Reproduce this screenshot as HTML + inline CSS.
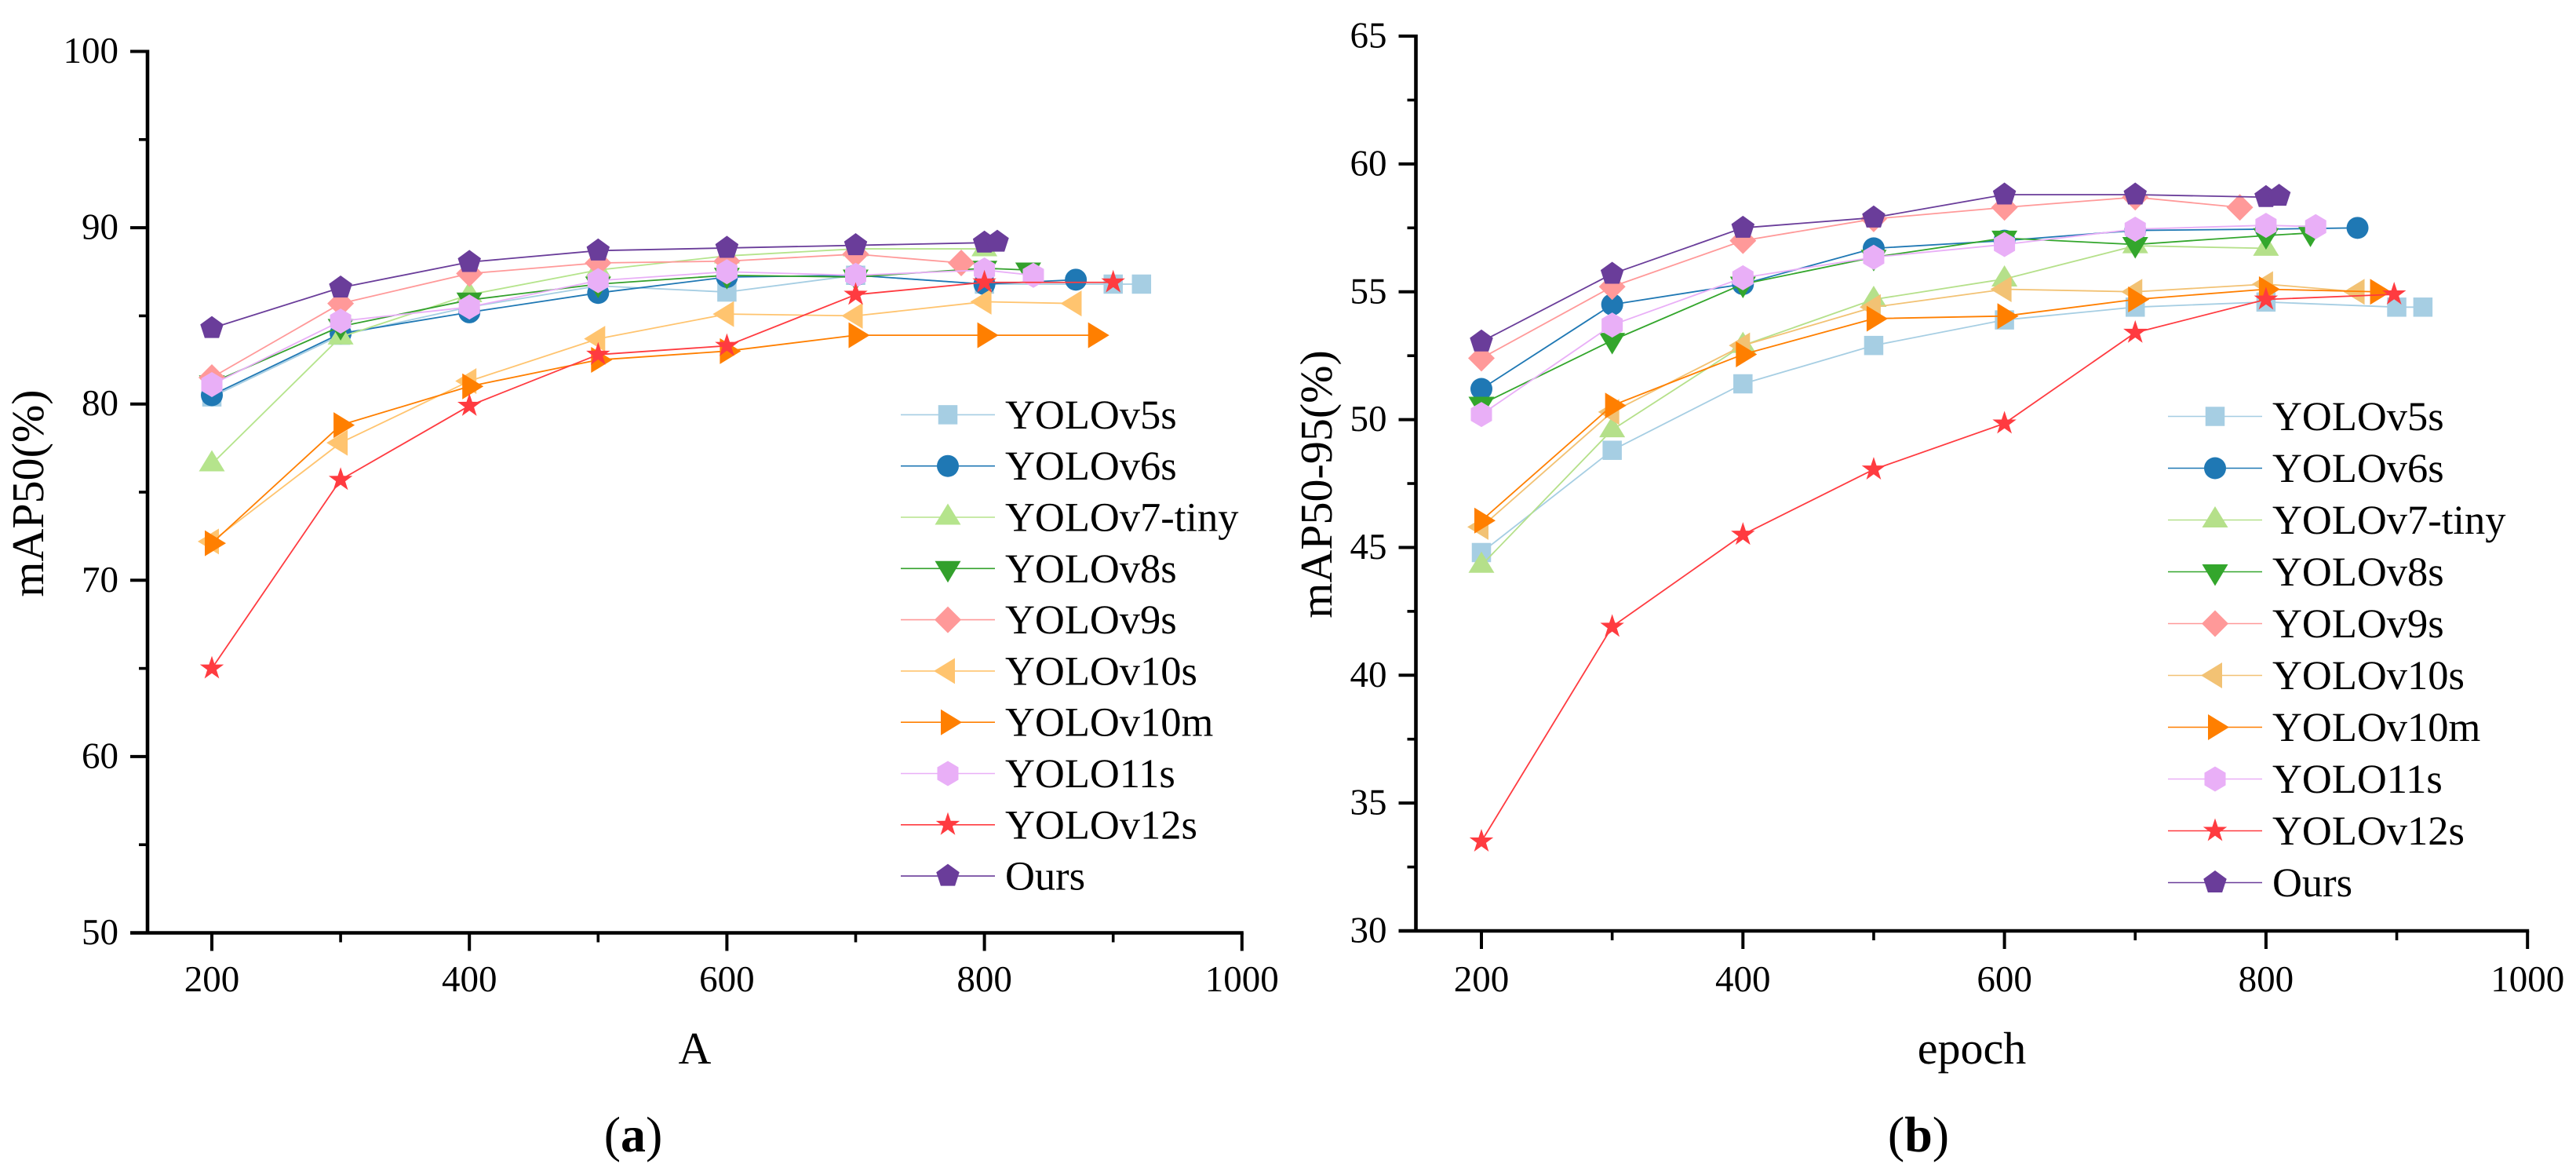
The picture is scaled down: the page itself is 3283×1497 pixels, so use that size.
<!DOCTYPE html>
<html lang="en">
<head>
<meta charset="utf-8">
<title>mAP comparison charts</title>
<style>
  html, body { margin: 0; padding: 0; background: #fff; }
  body { width: 3283px; height: 1497px; overflow: hidden; }
  svg { display: block; }
  text { font-family: "Liberation Serif", "Times New Roman", serif; fill: #000; text-rendering: geometricPrecision; }
</style>
</head>
<body>
<svg id="figure" xmlns="http://www.w3.org/2000/svg" width="3283" height="1497" viewBox="0 0 3283 1497">
  <rect x="0" y="0" width="3283" height="1497" fill="#ffffff"/>
</svg>
<script>
// ---------- shared labels ----------
const seriesNames = ["YOLOv5s","YOLOv6s","YOLOv7-tiny","YOLOv8s","YOLOv9s","YOLOv10s","YOLOv10m","YOLO11s","YOLOv12s","Ours"];
const xTickLabels = [200,400,600,800,1000];
const xMinorTicks = [300,500,700,900];
const yTicksA = [50,60,70,80,90,100];
const yMinorA = [55,65,75,85,95];
const yTicksB = [30,35,40,45,50,55,60,65];
const yMinorB = [32.5,37.5,42.5,47.5,52.5,57.5,62.5];

// ---------- panel (a) data ----------
const aX_v5s  = [200,300,400,500,600,700,800,900,922];
const aY_v5s  = [80.4,83.9,85.5,86.7,86.35,87.3,86.8,86.8,86.8];
const aX_v6s  = [200,300,400,500,600,700,800,871];
const aY_v6s  = [80.5,84.0,85.2,86.3,87.2,87.3,86.8,87.05];
const aX_v7   = [200,300,400,500,600,700,800];
const aY_v7   = [76.6,83.8,86.2,87.6,88.4,88.8,88.8];
const aX_v8   = [200,300,400,500,600,700,800,834];
const aY_v8   = [81.2,84.4,85.9,86.8,87.3,87.2,87.7,87.6];
const aX_v9   = [200,300,400,500,600,700,782];
const aY_v9   = [81.5,85.7,87.4,88.0,88.1,88.5,88.0];
const aX_v10s = [200,300,400,500,600,700,800,870];
const aY_v10s = [72.2,77.8,81.3,83.7,85.1,85.0,85.8,85.7];
const aX_v10m = [200,300,400,500,600,700,800,886];
const aY_v10m = [72.1,78.8,81.0,82.5,83.0,83.9,83.9,83.9];
const aX_v11  = [200,300,400,500,600,700,800,838];
const aY_v11  = [81.1,84.7,85.5,87.0,87.5,87.3,87.6,87.3];
const aX_v12  = [200,300,400,500,600,700,800,900];
const aY_v12  = [65.0,75.7,79.9,82.8,83.3,86.2,86.9,86.9];
const aX_ours = [200,300,400,500,600,700,800,810];
const aY_ours = [84.3,86.6,88.05,88.7,88.85,89.0,89.15,89.2];

// ---------- panel (b) data ----------
const bX_v5s  = [200,300,400,500,600,700,800,900,920];
const bY_v5s  = [44.8,48.8,51.4,52.9,53.9,54.4,54.6,54.4,54.4];
const bX_v6s  = [200,300,400,500,600,700,800,870];
const bY_v6s  = [51.2,54.5,55.3,56.7,57.0,57.4,57.45,57.5];
const bX_v7   = [200,300,400,500,600,700,800];
const bY_v7   = [44.3,49.6,52.9,54.7,55.5,56.8,56.7];
const bX_v8   = [200,300,400,500,600,700,800,834];
const bY_v8   = [50.6,53.1,55.3,56.35,57.1,56.85,57.2,57.3];
const bX_v9   = [200,300,400,500,600,700,780];
const bY_v9   = [52.4,55.2,57.0,57.85,58.3,58.7,58.3];
const bX_v10s = [200,300,400,500,600,700,800,870];
const bY_v10s = [45.8,50.3,52.9,54.4,55.1,55.0,55.3,55.0];
const bX_v10m = [200,300,400,500,600,700,800,885];
const bY_v10m = [46.05,50.55,52.55,53.95,54.05,54.7,55.1,55.0];
const bX_v11  = [200,300,400,500,600,700,800,838];
const bY_v11  = [50.2,53.7,55.55,56.35,56.85,57.45,57.6,57.55];
const bX_v12  = [200,300,400,500,600,700,800,898];
const bY_v12  = [33.5,41.9,45.5,48.05,49.85,53.4,54.7,54.9];
const bX_ours = [200,300,400,500,600,700,800,810];
const bY_ours = [53.05,55.7,57.5,57.9,58.8,58.8,58.7,58.75];

const aXs = [aX_v5s,aX_v6s,aX_v7,aX_v8,aX_v9,aX_v10s,aX_v10m,aX_v11,aX_v12,aX_ours];
const aYs = [aY_v5s,aY_v6s,aY_v7,aY_v8,aY_v9,aY_v10s,aY_v10m,aY_v11,aY_v12,aY_ours];
const bXs = [bX_v5s,bX_v6s,bX_v7,bX_v8,bX_v9,bX_v10s,bX_v10m,bX_v11,bX_v12,bX_ours];
const bYs = [bY_v5s,bY_v6s,bY_v7,bY_v8,bY_v9,bY_v10s,bY_v10m,bY_v11,bY_v12,bY_ours];

const colorsA = ["#A6CEE3","#1F78B4","#B5E48C","#33A02C","#FF9999","#FFC46F","#FF7F00","#E9AFF7","#FF3B40","#6A3D9A"];
const colorsB = ["#A6CEE3","#1F78B4","#B5E08A","#33A62C","#FF9999","#F2C274","#FF7F00","#E9AFF7","#FF3B40","#6A3D9A"];
const markerKinds = ["square","circle","up","down","diamond","left","right","hexagon","star","pentagon"];

const NS = "http://www.w3.org/2000/svg";
const svg = document.getElementById("figure");

function make(parent, tag, attrs) {
  const el = document.createElementNS(NS, tag);
  for (const k in attrs) el.setAttribute(k, attrs[k]);
  parent.appendChild(el);
  return el;
}

function polyPoints(cx, cy, pts) {
  return pts.map(p => (cx + p[0]).toFixed(2) + "," + (cy + p[1]).toFixed(2)).join(" ");
}

function radial(n, r1, r2) {
  const out = [];
  const count = r2 ? n * 2 : n;
  for (let i = 0; i < count; i++) {
    const r = (r2 && i % 2) ? r2 : r1;
    const t = -Math.PI / 2 + i * 2 * Math.PI / count;
    out.push([r * Math.cos(t), r * Math.sin(t)]);
  }
  return out;
}

function drawMarker(parent, kind, cx, cy, color) {
  if (kind === "circle") return make(parent, "circle", {cx: cx, cy: cy, r: 14, fill: color});
  if (kind === "square") return make(parent, "rect", {x: cx - 12.25, y: cy - 12.25, width: 24.5, height: 24.5, fill: color});
  let pts;
  if (kind === "up") pts = [[0,-17.5],[16.5,9.5],[-16.5,9.5]];
  if (kind === "down") pts = [[-16.5,-9.5],[16.5,-9.5],[0,18]];
  if (kind === "left") pts = [[-18,0],[9,-16.5],[9,16.5]];
  if (kind === "right") pts = [[18,0],[-9,-16.5],[-9,16.5]];
  if (kind === "diamond") pts = [[0,-17],[17,0],[0,17],[-17,0]];
  if (kind === "hexagon") pts = [[0,-16],[13.5,-8],[13.5,8],[0,16],[-13.5,8],[-13.5,-8]];
  if (kind === "pentagon") pts = radial(5, 15.5);
  if (kind === "star") pts = radial(5, 16, 6.2);
  return make(parent, "polygon", {points: polyPoints(cx, cy, pts), fill: color});
}

function drawPanel(p) {
  const panel = make(svg, "g", {});
  
  

  const sx = v => p.x200 + (v - 200) * p.xScale;
  const sy = v => p.yBase + (p.yMin - v) * p.yScale;

  // axes
  const axes = make(panel, "g", {stroke: "#000", fill: "none"});
  
  
  const axisY = sy(p.yMin);
  const yAxisLine = make(axes, "line", {x1: p.xAxis, y1: sy(p.yMax) - 2, x2: p.xAxis, y2: axisY + 2, "stroke-width": 4.6});
  
  
  const xAxisLine = make(axes, "line", {x1: p.xAxis - 22, y1: axisY, x2: sx(1000) + 2, y2: axisY, "stroke-width": 4.6});
  
  

  xTickLabels.forEach(v => {
    const t = make(axes, "line", {x1: sx(v), y1: axisY, x2: sx(v), y2: axisY + 23, "stroke-width": 4});
    
    
    const l = make(panel, "text", {x: sx(v), y: p.xTickBase, "text-anchor": "middle", "font-size": p.tickFont});
    l.textContent = v;
    
    
  });
  xMinorTicks.forEach(v => {
    const t = make(axes, "line", {x1: sx(v), y1: axisY, x2: sx(v), y2: axisY + 12, "stroke-width": 3.6});
    
    
  });
  p.yTicks.forEach(v => {
    const t = make(axes, "line", {x1: p.xAxis - 22, y1: sy(v), x2: p.xAxis, y2: sy(v), "stroke-width": 4});
    
    
    const l = make(panel, "text", {x: p.xAxis - 37, y: sy(v) + 14.5, "text-anchor": "end", "font-size": p.tickFont});
    l.textContent = v;
    
    
  });
  p.yMinor.forEach(v => {
    const t = make(axes, "line", {x1: p.xAxis - 11, y1: sy(v), x2: p.xAxis, y2: sy(v), "stroke-width": 3.6});
    
    
  });

  // axis titles
  const xt = make(panel, "text", {x: p.xTitleX, y: p.xTitleY, "text-anchor": "middle", "font-size": 58});
  xt.textContent = p.xTitle;
  
  
  const yt = make(panel, "text", {x: 0, y: 0, "text-anchor": "middle", "font-size": 58, transform: "translate(" + p.yTitleX + "," + p.yTitleY + ") rotate(-90)"});
  yt.textContent = p.yTitle;
  
  

  // series
  seriesNames.forEach((name, i) => {
    const g = make(panel, "g", {});
    
    
    const xs = p.xs[i], ys = p.ys[i];
    const pts = xs.map((x, j) => sx(x).toFixed(2) + "," + sy(ys[j]).toFixed(2)).join(" ");
    const line = make(g, "polyline", {points: pts, fill: "none", stroke: p.colors[i], "stroke-width": 1.8, "stroke-linejoin": "round"});
    
    
    xs.forEach((x, j) => {
      const m = drawMarker(g, markerKinds[i], sx(x), sy(ys[j]), p.colors[i]);
      
      
    });
  });

  // legend
  const legend = make(panel, "g", {});
  
  
  seriesNames.forEach((name, i) => {
    const y = p.legendY + i * p.legendStep;
    const e = make(legend, "g", {});
    
    
    make(e, "line", {x1: p.legendX, y1: y, x2: p.legendX + 120, y2: y, stroke: p.colors[i], "stroke-width": 1.6});
    drawMarker(e, markerKinds[i], p.legendX + 60, y, p.colors[i]);
    const t = make(e, "text", {x: p.legendX + 133, y: y + 17.5, "font-size": 52.5});
    t.textContent = name;
  });

  // caption
  const cap = make(panel, "text", {x: p.capX, y: 1467, "text-anchor": "middle", "font-size": 64});
  
  
  const t1 = make(cap, "tspan", {});
  t1.textContent = "(";
  const t2 = make(cap, "tspan", {"font-weight": "bold"});
  t2.textContent = p.id;
  const t3 = make(cap, "tspan", {});
  t3.textContent = ")";
}

drawPanel({
  id: "a", xs: aXs, ys: aYs, colors: colorsA,
  x200: 270, xScale: 1.641, xAxis: 188,
  yMin: 50, yMax: 100, yBase: 1188.5, yScale: 22.46,
  yTicks: yTicksA, yMinor: yMinorA, tickFont: 47, xTickBase: 1263,
  xTitle: "A", xTitleX: 885.5, xTitleY: 1355,
  yTitle: "mAP50(%)", yTitleX: 55, yTitleY: 628.5,
  legendX: 1148, legendY: 528.4, legendStep: 65.3, capX: 807
});
drawPanel({
  id: "b", xs: bXs, ys: bYs, colors: colorsB,
  x200: 1888, xScale: 1.6665, xAxis: 1804.5,
  yMin: 30, yMax: 65, yBase: 1186, yScale: 32.57,
  yTicks: yTicksB, yMinor: yMinorB, tickFont: 47, xTickBase: 1263,
  xTitle: "epoch", xTitleX: 2513, xTitleY: 1355,
  yTitle: "mAP50-95(%)", yTitleX: 1697, yTitleY: 617,
  legendX: 2763, legendY: 530.5, legendStep: 66.0, capX: 2445
});
</script>
</body>
</html>
